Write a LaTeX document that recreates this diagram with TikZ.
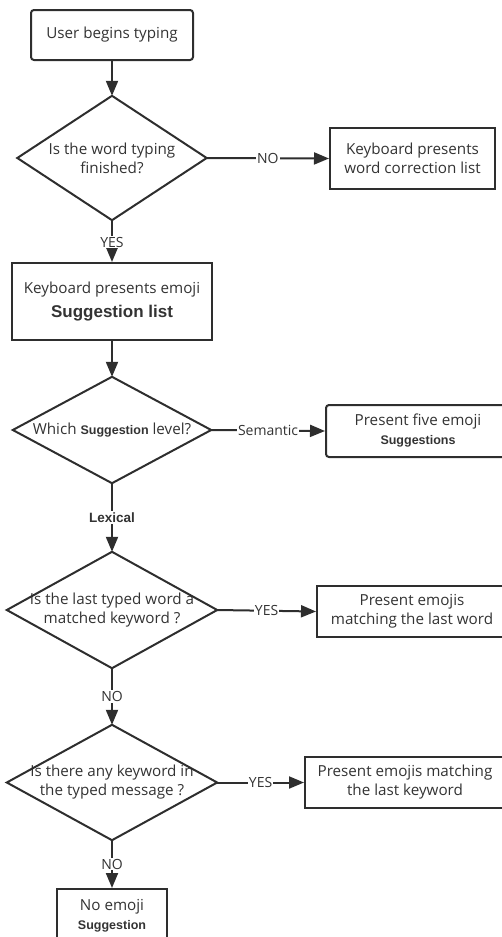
\documentclass[tikz,border=0pt]{standalone}
\usepackage{fontspec}
\setmainfont{Open Sans}
\newfontfamily\arialf{Liberation Sans}
\usetikzlibrary{arrows.meta}
\definecolor{ln}{HTML}{2E2E2E}
\definecolor{tx}{HTML}{333333}
\newcommand\sugf{\arialf\bfseries\fontsize{12.5}{16}\selectfont}
\newcommand\bigsugf{\arialf\bfseries\fontsize{17}{21}\selectfont}
\tikzset{
  box/.style={draw=ln, line width=2pt, align=center, text=tx,
    font=\fontsize{15.2}{19}\selectfont, inner sep=0pt},
  decn/.style={draw=none, align=center, text=tx,
    font=\fontsize{15.2}{19}\selectfont, inner sep=0pt},
  dshape/.style={draw=ln, line width=2pt},
  arr/.style={draw=ln, line width=2pt, -{Triangle[length=15pt,width=12pt]}},
  lbl/.style={fill=white, inner sep=1pt, text=tx, font=\fontsize{14}{16}\selectfont},
  lbb/.style={fill=white, inner sep=1.5pt, text=tx, font=\arialf\bfseries\fontsize{13.5}{16}\selectfont}
}
\begin{document}
\begin{tikzpicture}[x=1pt,y=-1pt]
\useasboundingbox (0,0) rectangle (502,937);
\clip (0,0) rectangle (502,937);
% nodes
\node[box, rounded corners=3pt, minimum width=162pt, minimum height=50pt] (b1) at (112,35) {User begins typing};
\node[decn, minimum width=189pt, minimum height=124pt] (d1) at (112,158) {Is the word typing\\finished?};
\node[box, minimum width=165pt, minimum height=61pt] (b2) at (412.5,158.5) {Keyboard presents\\word correction list};
\node[box, minimum width=200pt, minimum height=77pt] (b3) at (112,301.5) {Keyboard presents emoji\\[5pt]{\bigsugf Suggestion list}};
\node[decn, minimum width=198pt, minimum height=106pt] (d2) at (112,430) {Which {\sugf Suggestion} level?};
\node[box, rounded corners=3pt, minimum width=184pt, minimum height=52pt] (b4) at (418,431) {Present five emoji\\{\sugf Suggestions}};
\node[decn, minimum width=210pt, minimum height=116pt] (d3) at (112,610) {Is the last typed word a\\matched keyword ?};
\node[box, minimum width=190pt, minimum height=51pt] (b5) at (412,611.5) {Present emojis\\matching the last word};
\node[decn, minimum width=210pt, minimum height=115pt] (d4) at (112,782.5) {Is there any keyword in\\the typed message ?};
\node[box, minimum width=200pt, minimum height=51pt] (b6) at (405,782.5) {Present emojis matching\\the last keyword};
\node[box, minimum width=110pt, minimum height=54pt] (b7) at (112,916) {No emoji\\{\sugf Suggestion}};
% diamonds
\draw[dshape] (d1.north) -- (d1.east) -- (d1.south) -- (d1.west) -- cycle;
\draw[dshape] (d2.north) -- (d2.east) -- (d2.south) -- (d2.west) -- cycle;
\draw[dshape] (d3.north) -- (d3.east) -- (d3.south) -- (d3.west) -- cycle;
\draw[dshape] (d4.north) -- (d4.east) -- (d4.south) -- (d4.west) -- cycle;
% connectors
\draw[arr] (b1.south) -- (d1.north);
\draw[arr] (d1.east) -- node[lbl]{NO} (b2.west);
\draw[arr] (d1.south) -- node[lbl, pos=0.53]{YES} (b3.north);
\draw[arr] (b3.south) -- (d2.north);
\draw[arr] (d2.east) -- node[lbl]{Semantic} (b4.west);
\draw[arr] (d2.south) -- node[lbb]{Lexical} (d3.north);
\draw[arr] (d3.east) -- node[lbl]{YES} (b5.west);
\draw[arr] (d3.south) -- node[lbl]{NO} (d4.north);
\draw[arr] (d4.east) -- node[lbl]{YES} (b6.west);
\draw[arr] (d4.south) -- node[lbl]{NO} (b7.north);
\end{tikzpicture}
\end{document}
